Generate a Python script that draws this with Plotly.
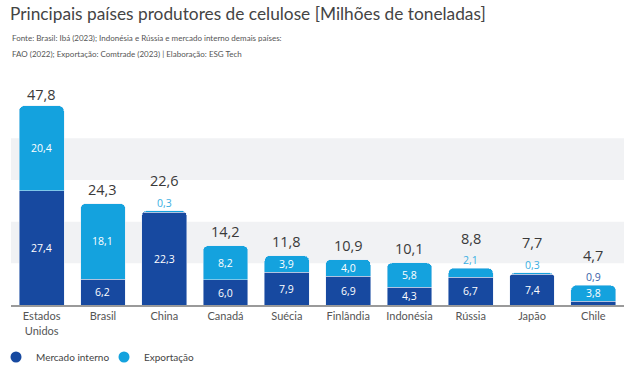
import plotly.graph_objects as go

categories = ["Estados<br>Unidos", "Brasil", "China", "Canadá", "Suécia",
              "Finlândia", "Indonésia", "Rússia", "Japão", "Chile"]
mercado_interno = [27.4, 6.2, 22.3, 6.0, 7.9, 6.9, 4.3, 6.7, 7.4, 0.9]
exportacao = [20.4, 18.1, 0.3, 8.2, 3.9, 4.0, 5.8, 2.1, 0.3, 3.8]
totais = [47.8, 24.3, 22.6, 14.2, 11.8, 10.9, 10.1, 8.8, 7.7, 4.7]

DARK = "#1749A0"
LIGHT = "#14A2DE"

W, H = 640, 387
L, R = 11, 16
B = 82
PLOT_H = 223
T = H - B - PLOT_H
PLOT_W = W - L - R

def fmt(v):
    return f"{v:.1f}".replace(".", ",")

def ypaper(px):
    return ((H - B) - px) / PLOT_H

def xpaper(px):
    return (px - L) / PLOT_W

fig = go.Figure()
fig.add_trace(go.Bar(x=categories, y=mercado_interno, marker_color=DARK,
                     name="Mercado interno", showlegend=False, hoverinfo="skip"))
fig.add_trace(go.Bar(x=categories, y=exportacao, marker_color=LIGHT,
                     name="Exportação", showlegend=False, hoverinfo="skip"))
fig.add_trace(go.Scatter(x=[None], y=[None], mode="markers", name="Mercado interno",
                         legend="legend",
                         marker=dict(color=DARK, size=11, symbol="circle")))
fig.add_trace(go.Scatter(x=[None], y=[None], mode="markers", name="Exportação",
                         legend="legend2",
                         marker=dict(color=LIGHT, size=11, symbol="circle")))

ann = []
NUM = "Open Sans"
lab_font = dict(family=NUM, size=10.5, color="white")
MIN_FIT = 3.0
for c, mi, ex, t in zip(categories, mercado_interno, exportacao, totais):
    extra = 0
    if mi >= MIN_FIT:
        ann.append(dict(x=c, y=mi / 2, text=fmt(mi), showarrow=False, font=lab_font))
    else:
        ann.append(dict(x=c, y=t, text=fmt(mi), showarrow=False, yshift=8,
                        font=dict(family=NUM, size=10.5, color="#3A62A8")))
        extra = 16
    if ex >= MIN_FIT:
        ann.append(dict(x=c, y=mi + ex / 2, text=fmt(ex), showarrow=False, font=lab_font))
    else:
        ann.append(dict(x=c, y=t, text=fmt(ex), showarrow=False, yshift=8,
                        font=dict(family=NUM, size=10.5, color="#3AAEE2")))
        extra = 16
    ys = 14 + extra
    if t > 40:
        ys = 11
    ann.append(dict(x=c, y=t, text=fmt(t), showarrow=False, yshift=ys,
                    font=dict(family=NUM, size=14.5, color="#3a3a3a")))

sub_font = dict(family="Lato", size=8, color="#555555")
ann.append(dict(xref="paper", yref="paper", x=xpaper(10), y=ypaper(38), xanchor="left",
                yanchor="middle", showarrow=False,
                text="Fonte: Brasil: Ibá (2023); Indonésia e Rússia e mercado interno demais países:",
                font=sub_font))
ann.append(dict(xref="paper", yref="paper", x=xpaper(10), y=ypaper(54), xanchor="left",
                yanchor="middle", showarrow=False,
                text="FAO (2022); Exportação: Comtrade (2023) | Elaboração: ESG Tech",
                font=sub_font))

shapes = []
for y0, y1 in [(10, 20), (30, 40)]:
    shapes.append(dict(type="rect", xref="paper", yref="y", x0=0, x1=1, y0=y0, y1=y1,
                       fillcolor="#F1F2F4", line=dict(width=0), layer="below"))

leg_font = dict(family="Lato", size=10, color="#444444")
fig.update_layout(
    barmode="stack",
    bargap=0.27,
    barcornerradius=5,
    width=W, height=H,
    margin=dict(l=L, r=R, t=T, b=B, autoexpand=False),
    plot_bgcolor="white", paper_bgcolor="white",
    hovermode=False,
    title=dict(text="Principais países produtores de celulose [Milhões de toneladas]",
               x=10 / W, xanchor="left", y=1 - 14 / H, yanchor="middle",
               font=dict(family="Lato", size=17.3, color="#444444")),
    xaxis=dict(showgrid=False, showline=True, linecolor="#9a9a9a", linewidth=2,
               ticks="", tickfont=dict(family="Lato", size=11, color="#555555")),
    yaxis=dict(range=[0, 53.5], visible=False, showgrid=False),
    annotations=ann,
    shapes=shapes,
    legend=dict(orientation="h", x=xpaper(-4), y=ypaper(357), xanchor="left",
                yanchor="middle", font=leg_font, itemwidth=30,
                bgcolor="rgba(0,0,0,0)"),
    legend2=dict(orientation="h", x=xpaper(104), y=ypaper(357), xanchor="left",
                 yanchor="middle", font=leg_font, itemwidth=30,
                 bgcolor="rgba(0,0,0,0)"),
)

fig.write_html("out.html",
               config={"displayModeBar": False},
               post_script="document.body.style.margin='0';document.body.style.padding='0';")
